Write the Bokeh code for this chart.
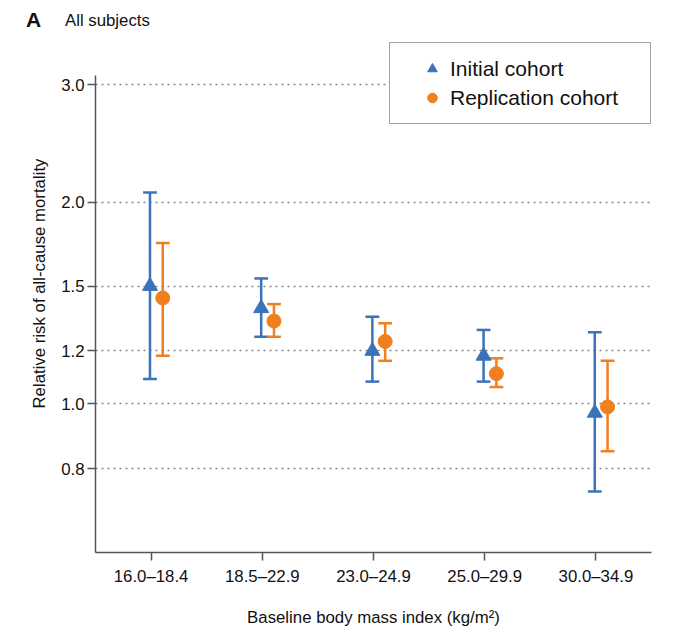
import math
from bokeh.plotting import figure
from bokeh.layouts import column
from bokeh.models import (Range1d, FixedTicker, PrintfTickFormatter, Legend, LegendItem,
                          Title, Div, ColumnDataSource)
from bokeh.embed import file_html
from bokeh.resources import INLINE

# ---- data ----
categories = ["16.0–18.4", "18.5–22.9", "23.0–24.9", "25.0–29.9", "30.0–34.9"]
initial_rr = [1.50, 1.39, 1.20, 1.18, 0.97]
initial_lo = [1.09, 1.26, 1.08, 1.08, 0.74]
initial_hi = [2.07, 1.54, 1.35, 1.29, 1.28]
replication_rr = [1.44, 1.33, 1.24, 1.11, 0.99]
replication_lo = [1.18, 1.26, 1.16, 1.06, 0.85]
replication_hi = [1.74, 1.41, 1.32, 1.17, 1.16]
y_ticks = [0.8, 1.0, 1.2, 1.5, 2.0, 3.0]

BLUE = "#3b72b9"
ORANGE = "#ef7f1f"
FONT = "Liberation Sans"
TXT = "#111111"
FS = "16.8px"

x_idx = list(range(len(categories)))
init_off, repl_off, cap = -0.01, 0.105, 0.062


def make_src(off, rr, lo, hi):
    xs = [i + off for i in x_idx]
    return ColumnDataSource(dict(
        x=xs, y=rr, lo=lo, hi=hi,
        cx0=[x - cap for x in xs], cx1=[x + cap for x in xs]))


src_i = make_src(init_off, initial_rr, initial_lo, initial_hi)
src_r = make_src(repl_off, replication_rr, replication_lo, replication_hi)

y0, y1 = 0.6, 3.503
axis_top = 3.1
p = figure(width=660, height=597, x_range=Range1d(-0.5, len(categories) - 0.5),
           y_range=Range1d(y0, y1), y_axis_type="log",
           output_backend="svg", toolbar_location=None,
           min_border_left=95, min_border_right=9, min_border_top=7, min_border_bottom=76)
p.outline_line_color = None
p.background_fill_color = "white"
p.border_fill_color = "white"

# axes
p.xaxis.ticker = FixedTicker(ticks=x_idx)
p.xaxis.major_label_overrides = {i: c for i, c in zip(x_idx, categories)}
p.yaxis.ticker = FixedTicker(ticks=y_ticks)
p.yaxis.formatter = PrintfTickFormatter(format="%.1f")
p.yaxis.bounds = (y0, axis_top)
for ax in (p.xaxis[0], p.yaxis[0]):
    ax.axis_line_color = "#555555"
    ax.axis_line_width = 1.5
    ax.major_tick_line_color = "#555555"
    ax.major_tick_line_width = 1.5
    ax.major_tick_out = 8
    ax.major_tick_in = 0
    ax.minor_tick_line_color = None
    ax.major_label_text_font = FONT
    ax.major_label_text_font_size = FS
    ax.major_label_text_color = TXT
p.xaxis.major_label_standoff = 6
p.yaxis.major_label_standoff = 3

p.xaxis.axis_label = "Baseline body mass index (kg/m²)"
p.xaxis.axis_label_text_font = FONT
p.xaxis.axis_label_text_font_size = FS
p.xaxis.axis_label_text_font_style = "normal"
p.xaxis.axis_label_text_color = TXT
p.xaxis.axis_label_standoff = 19

# grid
p.xgrid.grid_line_color = None
p.ygrid.ticker = FixedTicker(ticks=y_ticks)
p.ygrid.grid_line_color = "#888888"
p.ygrid.grid_line_dash = "2 4"
p.ygrid.grid_line_width = 1.5

# error bars + markers
for src, col in ((src_i, BLUE), (src_r, ORANGE)):
    p.segment(x0="x", y0="lo", x1="x", y1="hi", source=src, line_color=col, line_width=2.5)
    p.segment(x0="cx0", y0="lo", x1="cx1", y1="lo", source=src, line_color=col, line_width=2.5)
    p.segment(x0="cx0", y0="hi", x1="cx1", y1="hi", source=src, line_color=col, line_width=2.5)

tri = p.scatter("x", "y", source=src_i, marker="triangle", size=15,
                fill_color=BLUE, line_color=BLUE)
circ = p.scatter("x", "y", source=src_r, marker="circle", size=14,
                 fill_color=ORANGE, line_color=ORANGE)

legend = Legend(items=[LegendItem(label="Initial cohort", renderers=[tri]),
                       LegendItem(label="Replication cohort", renderers=[circ])],
                location=(294, 428), margin=0, spacing=0,
                glyph_height=29, label_height=29,
                label_text_font=FONT, label_text_font_size="21px",
                label_text_color=TXT,
                border_line_color="#444444", border_line_width=1.5,
                background_fill_color="white", background_fill_alpha=1.0)
pad_ok = False
for pad in (dict(top=11, right=11, bottom=11, left=30), (11, 11, 11, 30)):
    try:
        legend.padding = pad
        pad_ok = True
        break
    except Exception:
        pass
if pad_ok:
    legend.glyph_width = 24
    legend.label_standoff = 6
    legend.label_width = 189
else:
    legend.padding = 11
    legend.glyph_width = 62
    legend.label_standoff = 0
    legend.label_width = 176
p.add_layout(legend, "center")

# y label as a left title (offset along the axis)
p.add_layout(Title(text="Relative risk of all-cause mortality", align="left", offset=144,
                   standoff=20, text_font=FONT, text_font_size=FS,
                   text_font_style="normal", text_color=TXT), "left")

header = Div(
    text=('<div style="position:relative;width:660px;height:32px;'
          'font-family:\'Liberation Sans\',Arial,sans-serif;color:#111111;">'
          '<span style="position:absolute;left:26px;top:9px;font-weight:bold;'
          'font-size:21px;line-height:1;white-space:nowrap;">A</span>'
          '<span style="position:absolute;left:65px;top:13px;font-size:16.8px;'
          'line-height:1;white-space:nowrap;">All subjects</span></div>'),
    width=660, height=32, margin=(0, 0, 0, 0))

layout = column(header, p, spacing=0)
open("out.html", "w").write(file_html(layout, INLINE))
